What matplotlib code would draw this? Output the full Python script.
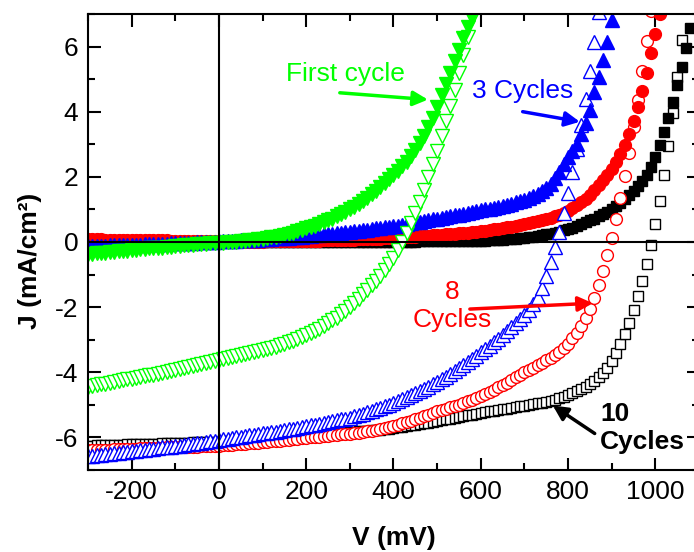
import numpy as np
import matplotlib

matplotlib.use("Agg")

import matplotlib.pyplot as plt
from matplotlib.ticker import MultipleLocator

plt.rcParams["font.family"] = ["Liberation Sans", "DejaVu Sans"]
plt.rcParams["axes.unicode_minus"] = False

# voltage sweep in mV (10 mV steps starting at -300 mV)
v_sweep = np.arange(-300, 1100, 10)

# current density J (mA/cm2), dark (filled) and illuminated (open) for each cycle count
first_dark = [
    -0.38, -0.37, -0.35, -0.34, -0.33, -0.32, -0.30, -0.29, -0.28, -0.27,
    -0.25, -0.24, -0.23, -0.22, -0.20, -0.19, -0.18, -0.17, -0.15, -0.14,
    -0.13, -0.12, -0.10, -0.09, -0.08, -0.07, -0.06, -0.05, -0.04, -0.03,
    -0.03, -0.02, -0.01, 0.00, 0.01, 0.02, 0.04, 0.05, 0.07, 0.08,
    0.10, 0.12, 0.14, 0.16, 0.19, 0.22, 0.25, 0.29, 0.33, 0.37,
    0.42, 0.46, 0.50, 0.55, 0.60, 0.66, 0.72, 0.79, 0.86, 0.93,
    1.00, 1.08, 1.17, 1.26, 1.36, 1.46, 1.57, 1.69, 1.81, 1.93,
    2.05, 2.18, 2.32, 2.47, 2.63, 2.82, 3.03, 3.26, 3.52, 3.82,
    4.15, 4.50, 4.85, 5.20, 5.55, 5.90, 6.25, 6.60, 6.95,
]
first_light = [
    -4.45, -4.42, -4.40, -4.37, -4.35, -4.32, -4.30, -4.27, -4.25, -4.22,
    -4.20, -4.17, -4.15, -4.12, -4.09, -4.07, -4.04, -4.01, -3.99, -3.96,
    -3.93, -3.90, -3.87, -3.84, -3.81, -3.78, -3.75, -3.72, -3.69, -3.66,
    -3.63, -3.60, -3.57, -3.54, -3.51, -3.48, -3.45, -3.42, -3.39, -3.36,
    -3.33, -3.29, -3.25, -3.21, -3.17, -3.13, -3.08, -3.03, -2.98, -2.92,
    -2.86, -2.80, -2.73, -2.66, -2.58, -2.50, -2.41, -2.32, -2.22, -2.12,
    -2.01, -1.88, -1.75, -1.61, -1.47, -1.33, -1.19, -1.05, -0.86, -0.68,
    -0.48, -0.25, 0.00, 0.28, 0.58, 0.90, 1.24, 1.60, 1.98, 2.38,
    2.80, 3.24, 3.70, 4.18, 4.68, 5.20, 5.74, 6.30, 6.88,
]
three_dark = [
    -0.12, -0.12, -0.11, -0.11, -0.11, -0.10, -0.10, -0.10, -0.09, -0.09,
    -0.08, -0.08, -0.08, -0.07, -0.07, -0.06, -0.06, -0.05, -0.05, -0.04,
    -0.04, -0.03, -0.03, -0.02, -0.02, -0.01, -0.01, 0.00, 0.01, 0.01,
    0.02, 0.03, 0.03, 0.04, 0.04, 0.05, 0.06, 0.06, 0.07, 0.07,
    0.08, 0.09, 0.10, 0.11, 0.11, 0.12, 0.13, 0.14, 0.15, 0.16,
    0.17, 0.18, 0.20, 0.21, 0.23, 0.24, 0.26, 0.27, 0.29, 0.30,
    0.32, 0.34, 0.35, 0.37, 0.38, 0.40, 0.42, 0.43, 0.45, 0.46,
    0.48, 0.50, 0.53, 0.55, 0.57, 0.60, 0.62, 0.65, 0.67, 0.70,
    0.72, 0.74, 0.77, 0.79, 0.82, 0.84, 0.87, 0.89, 0.92, 0.94,
    0.97, 1.00, 1.02, 1.05, 1.08, 1.11, 1.14, 1.18, 1.22, 1.26,
    1.30, 1.35, 1.41, 1.48, 1.56, 1.66, 1.78, 1.95, 2.15, 2.38,
    2.60, 2.80, 3.00, 3.30, 3.65, 4.05, 4.60, 5.05, 5.60, 6.15,
    6.80,
]
three_light = [
    -6.58, -6.56, -6.55, -6.53, -6.52, -6.50, -6.49, -6.47, -6.46, -6.44,
    -6.43, -6.41, -6.39, -6.38, -6.36, -6.35, -6.33, -6.31, -6.30, -6.28,
    -6.26, -6.25, -6.23, -6.21, -6.19, -6.18, -6.16, -6.14, -6.12, -6.10,
    -6.08, -6.06, -6.04, -6.02, -6.00, -5.98, -5.96, -5.94, -5.92, -5.90,
    -5.88, -5.86, -5.84, -5.82, -5.80, -5.77, -5.75, -5.73, -5.70, -5.68,
    -5.66, -5.63, -5.61, -5.58, -5.56, -5.53, -5.50, -5.47, -5.45, -5.42,
    -5.39, -5.35, -5.31, -5.27, -5.23, -5.19, -5.14, -5.09, -5.04, -4.99,
    -4.94, -4.89, -4.83, -4.77, -4.71, -4.64, -4.57, -4.51, -4.44, -4.37,
    -4.30, -4.22, -4.14, -4.06, -3.97, -3.88, -3.79, -3.69, -3.59, -3.49,
    -3.39, -3.29, -3.19, -3.08, -2.97, -2.86, -2.74, -2.62, -2.50, -2.37,
    -2.24, -2.08, -1.90, -1.68, -1.40, -1.05, -0.62, -0.16, 0.32, 0.88,
    1.50, 2.15, 2.85, 3.60, 4.40, 5.25, 6.15, 7.05,
]
eight_dark = [
    0.08, 0.08, 0.08, 0.08, 0.07, 0.07, 0.07, 0.07, 0.07, 0.07,
    0.06, 0.06, 0.06, 0.06, 0.05, 0.05, 0.05, 0.05, 0.05, 0.04,
    0.04, 0.04, 0.04, 0.03, 0.03, 0.03, 0.03, 0.02, 0.02, 0.02,
    0.01, 0.01, 0.01, 0.01, 0.01, 0.01, 0.01, 0.01, 0.01, 0.01,
    0.01, 0.02, 0.02, 0.02, 0.02, 0.02, 0.03, 0.03, 0.03, 0.03,
    0.03, 0.04, 0.04, 0.04, 0.05, 0.05, 0.05, 0.06, 0.06, 0.06,
    0.07, 0.07, 0.08, 0.08, 0.09, 0.09, 0.10, 0.10, 0.11, 0.12,
    0.12, 0.13, 0.14, 0.14, 0.15, 0.16, 0.17, 0.18, 0.19, 0.20,
    0.21, 0.22, 0.23, 0.24, 0.25, 0.27, 0.28, 0.29, 0.31, 0.32,
    0.34, 0.35, 0.37, 0.39, 0.41, 0.43, 0.45, 0.47, 0.50, 0.52,
    0.55, 0.58, 0.61, 0.64, 0.67, 0.71, 0.75, 0.79, 0.84, 0.89,
    0.95, 1.03, 1.12, 1.22, 1.33, 1.45, 1.59, 1.74, 1.90, 2.07,
    2.25, 2.46, 2.70, 2.98, 3.30, 3.70, 4.15, 4.65, 5.20, 5.80,
    6.40, 7.00,
]
eight_light = [
    -6.40, -6.40, -6.39, -6.39, -6.38, -6.38, -6.37, -6.37, -6.36, -6.36,
    -6.35, -6.35, -6.34, -6.34, -6.33, -6.33, -6.32, -6.32, -6.31, -6.31,
    -6.30, -6.30, -6.29, -6.29, -6.28, -6.28, -6.27, -6.27, -6.26, -6.26,
    -6.25, -6.24, -6.23, -6.22, -6.21, -6.20, -6.19, -6.18, -6.17, -6.16,
    -6.15, -6.14, -6.12, -6.11, -6.10, -6.08, -6.07, -6.06, -6.04, -6.03,
    -6.02, -6.00, -5.99, -5.98, -5.96, -5.95, -5.94, -5.92, -5.91, -5.90,
    -5.89, -5.87, -5.85, -5.83, -5.81, -5.79, -5.77, -5.74, -5.71, -5.68,
    -5.65, -5.61, -5.57, -5.53, -5.49, -5.45, -5.40, -5.35, -5.30, -5.25,
    -5.20, -5.16, -5.12, -5.08, -5.04, -4.99, -4.94, -4.89, -4.84, -4.78,
    -4.72, -4.66, -4.60, -4.53, -4.46, -4.39, -4.32, -4.24, -4.16, -4.08,
    -4.00, -3.93, -3.86, -3.79, -3.71, -3.63, -3.55, -3.46, -3.37, -3.26,
    -3.12, -2.96, -2.78, -2.58, -2.34, -2.06, -1.72, -1.32, -0.88, -0.40,
    0.12, 0.70, 1.34, 2.02, 2.74, 3.52, 4.36, 5.24, 6.16, 7.10,
]
ten_dark = [
    0.00, 0.00, 0.00, 0.00, 0.00, 0.00, 0.00, 0.00, 0.00, 0.00,
    0.00, 0.00, 0.00, 0.00, 0.00, 0.00, 0.00, 0.00, 0.00, 0.00,
    0.00, 0.00, 0.00, 0.00, 0.00, 0.00, 0.00, 0.00, 0.00, 0.00,
    0.00, 0.00, 0.00, 0.00, 0.00, 0.00, 0.00, 0.00, 0.00, 0.00,
    0.00, 0.00, 0.00, 0.00, 0.00, 0.00, 0.00, 0.00, 0.00, 0.00,
    0.00, 0.00, 0.00, 0.00, 0.00, 0.01, 0.01, 0.01, 0.01, 0.01,
    0.01, 0.01, 0.01, 0.01, 0.01, 0.01, 0.01, 0.01, 0.01, 0.01,
    0.01, 0.01, 0.01, 0.01, 0.01, 0.01, 0.02, 0.02, 0.02, 0.02,
    0.02, 0.02, 0.02, 0.02, 0.02, 0.03, 0.03, 0.03, 0.03, 0.03,
    0.04, 0.04, 0.05, 0.05, 0.06, 0.07, 0.08, 0.09, 0.10, 0.11,
    0.12, 0.14, 0.16, 0.18, 0.20, 0.23, 0.26, 0.29, 0.32, 0.36,
    0.40, 0.44, 0.49, 0.54, 0.60, 0.66, 0.72, 0.79, 0.86, 0.93,
    1.00, 1.10, 1.20, 1.32, 1.45, 1.58, 1.72, 1.86, 2.05, 2.30,
    2.62, 2.98, 3.38, 3.82, 4.30, 4.82, 5.38, 5.96, 6.58, 7.22,
]
ten_light = [
    -6.25, -6.25, -6.24, -6.24, -6.23, -6.23, -6.23, -6.22, -6.22, -6.21,
    -6.21, -6.21, -6.20, -6.20, -6.19, -6.19, -6.19, -6.18, -6.18, -6.17,
    -6.17, -6.17, -6.16, -6.16, -6.15, -6.15, -6.15, -6.14, -6.14, -6.13,
    -6.13, -6.12, -6.11, -6.10, -6.09, -6.08, -6.07, -6.06, -6.05, -6.04,
    -6.03, -6.02, -6.01, -6.00, -5.99, -5.98, -5.97, -5.96, -5.95, -5.94,
    -5.93, -5.92, -5.91, -5.90, -5.89, -5.88, -5.87, -5.86, -5.85, -5.84,
    -5.83, -5.82, -5.81, -5.80, -5.79, -5.78, -5.77, -5.76, -5.74, -5.73,
    -5.71, -5.69, -5.67, -5.65, -5.63, -5.61, -5.59, -5.57, -5.55, -5.52,
    -5.50, -5.47, -5.45, -5.42, -5.40, -5.37, -5.35, -5.32, -5.30, -5.27,
    -5.24, -5.22, -5.20, -5.18, -5.16, -5.14, -5.12, -5.10, -5.07, -5.05,
    -5.03, -5.00, -4.98, -4.95, -4.93, -4.90, -4.87, -4.84, -4.80, -4.76,
    -4.70, -4.64, -4.58, -4.51, -4.44, -4.36, -4.26, -4.15, -4.02, -3.87,
    -3.66, -3.42, -3.14, -2.83, -2.48, -2.10, -1.67, -1.20, -0.68, -0.10,
    0.55, 1.25, 2.05, 2.95, 3.95, 5.05, 6.20, 7.35,
]

GREEN = "#00ff00"
BLUE = "#0000ff"
RED = "#ff0000"
BLACK = "#000000"

fig = plt.figure(figsize=(6.94, 5.52), dpi=100)
# axes runs slightly past the right edge, like the cropped original
ax = fig.add_axes([0.1268, 0.1486, 0.8804, 0.8261])

# (J values, marker, colour, filled, size) - drawn bottom to top
series = [
    (ten_light, "s", BLACK, False, 7.5),
    (ten_dark, "s", BLACK, True, 7.5),
    (eight_light, "o", RED, False, 8.5),
    (eight_dark, "o", RED, True, 8.5),
    (three_light, "^", BLUE, False, 9.5),
    (three_dark, "^", BLUE, True, 9.5),
    (first_light, "v", GREEN, False, 9.5),
    (first_dark, "v", GREEN, True, 9.5),
]
for j, mk, col, filled, ms in series:
    v = v_sweep[: len(j)]
    ax.plot(v, j, linestyle="none", marker=mk, markersize=ms,
            markerfacecolor=col if filled else "white",
            markeredgecolor=col, markeredgewidth=1.0)

ax.axhline(0, color="black", lw=1.5, zorder=5)
ax.axvline(0, color="black", lw=1.5, zorder=5)

ax.set_xlim(-300, 1100)
ax.set_ylim(-7, 7)
ax.xaxis.set_major_locator(MultipleLocator(200))
ax.xaxis.set_minor_locator(MultipleLocator(100))
ax.yaxis.set_major_locator(MultipleLocator(2))
ax.yaxis.set_minor_locator(MultipleLocator(1))
ax.tick_params(which="both", direction="in", top=True, right=True, width=1.5)
ax.tick_params(which="major", length=9, labelsize=19, pad=7)
ax.tick_params(which="minor", length=5)
for sp in ax.spines.values():
    sp.set_linewidth(1.5)

ax.set_xlabel("V (mV)", fontsize=19, fontweight="bold", labelpad=16)
ax.set_ylabel("J (mA/cm²)", fontsize=19, fontweight="bold")
ax.yaxis.set_label_coords(-0.075, 0.458)

# annotations
arrow = dict(arrowstyle="-|>", lw=2.5, mutation_scale=22, shrinkA=0, shrinkB=0)
ax.text(289, 5.17, "First cycle", color=GREEN, fontsize=19, ha="center", va="center")
ax.annotate("", xy=(479, 4.37), xytext=(277, 4.58),
            arrowprops=dict(arrow, color=GREEN))
ax.text(696, 4.62, "3 Cycles", color=BLUE, fontsize=19, ha="center", va="center")
ax.annotate("", xy=(827, 3.69), xytext=(696, 4.0),
            arrowprops=dict(arrow, color=BLUE))
ax.text(534, -1.97, "8\nCycles", color=RED, fontsize=19, ha="center", va="center",
        multialignment="center")
ax.annotate("", xy=(857, -1.88), xytext=(575, -2.06),
            arrowprops=dict(arrow, color=RED))
ax.text(873, -5.71, "10\nCycles", color=BLACK, fontsize=19, fontweight="bold",
        ha="left", va="center", multialignment="left")
ax.annotate("", xy=(765, -5.02), xytext=(861, -5.88),
            arrowprops=dict(arrow, color=BLACK))

fig.savefig("out.png", dpi=100)
